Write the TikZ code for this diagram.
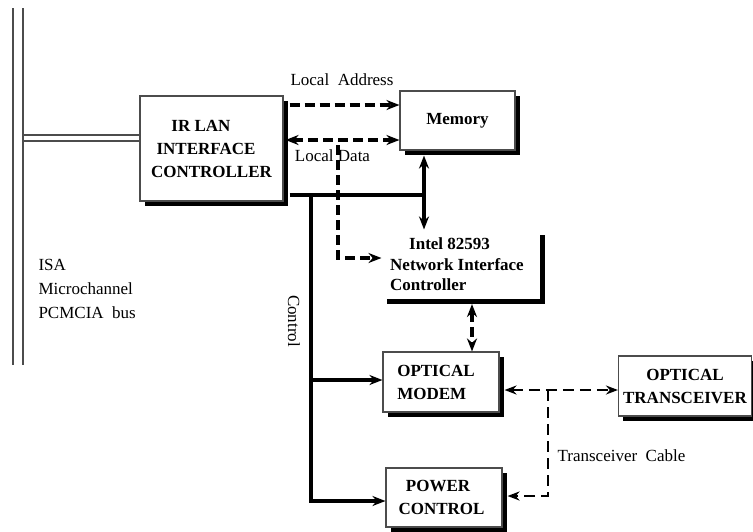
\documentclass[tikz,border=0pt]{standalone}
\usepackage{fontspec}
\setmainfont{Liberation Serif}
\usetikzlibrary{shadows,arrows.meta,calc}
\begin{document}
\begin{tikzpicture}[x=1pt,y=-1pt,
  every node/.style={font=\fontsize{17}{23}\selectfont},
  box/.style={draw=black!70, line width=1.1pt, fill=white, inner sep=0pt,
    font=\fontsize{17}{23}\selectfont\bfseries,
    drop shadow={shadow xshift=4.5pt,shadow yshift=-4.5pt,fill=black,opacity=1}},
  bus/.style={draw=black!70, line width=1.3pt},
  solidline/.style={line width=3.8pt},
  solidarrow/.style={line width=3.8pt, -{Stealth[length=13pt,width=10pt]}},
  dasharrow/.style={line width=3.6pt, dash pattern=on 10pt off 5pt, -{Stealth[length=13pt,width=10pt]}},
  cable/.style={line width=2.6pt, dash pattern=on 11pt off 6pt, -{Stealth[length=12pt,width=9pt]}},
]
\useasboundingbox (0,0) rectangle (753,531);

% bus
\draw[bus] (13,8) -- (13,365);
\draw[bus] (23,8) -- (23,365);

% boxes
\node[box, minimum width=143pt, minimum height=105pt, align=center] (ir) at (211.5,148.5)
  {IR LAN\kern21pt\\INTERFACE\kern11pt\\CONTROLLER};
\node[box, minimum width=115pt, minimum height=59pt] (mem) at (457.5,120.5) {Memory};
\node[box, draw=none, minimum width=158pt, minimum height=69pt, align=left,
  font=\fontsize{17}{20.5}\selectfont\bfseries] (nic) at (461,264.5)
  {\kern19pt Intel 82593\\Network Interface\kern8pt\\Controller};
\node[box, minimum width=116pt, minimum height=60pt, align=left] (modem) at (441,382)
  {OPTICAL\kern10pt\\MODEM};
\node[box, minimum width=133pt, minimum height=60pt, align=center] (trans) at (685,386)
  {OPTICAL\\TRANSCEIVER};
\node[box, minimum width=116pt, minimum height=59pt, align=center] (power) at (444,497.5)
  {POWER\kern12pt\\CONTROL\kern5pt};

% bus link
\draw[bus] (23,135) -- (ir.west |- 0,135);
\draw[bus] (23,141) -- (ir.west |- 0,141);
\draw[bus] (23,135) -- (23,141);

% connectors
\coordinate (ldj) at (338,140);
\coordinate (j1) at (424,195);
\coordinate (j2) at (311,195);
\coordinate (j3) at (548,390);

\draw[dasharrow] ([xshift=6pt]ir.east |- 0,105) -- (mem.west |- 0,105);
\draw[dasharrow, {Stealth[length=13pt,width=10pt]}-{Stealth[length=13pt,width=10pt]}]
  ([xshift=2pt]ir.east |- 0,140) -- (mem.west |- 0,140);
\draw[dasharrow] ([yshift=-5pt]ldj) |- (nic.west |- 0,258);

\draw[solidline] ([xshift=6pt]ir.east |- j1) -- (j1);
\draw[solidarrow, {Stealth[length=13pt,width=10pt]}-{Stealth[length=13pt,width=10pt]}]
  ([yshift=-5pt]mem.south -| j1) -- (nic.north -| j1);

\draw[solidarrow] (j2) -- (j2 |- 0,501) -- (power.west |- 0,501);
\draw[solidarrow] (j2 |- 0,380) -- (modem.west |- 0,380);

\draw[dasharrow, {Stealth[length=13pt,width=10pt]}-{Stealth[length=13pt,width=10pt]}]
  ([yshift=-4.5pt]nic.south -| 472,0) -- (modem.north -| 472,0);

\draw[cable, {Stealth[length=12pt,width=9pt]}-{Stealth[length=12pt,width=9pt]}]
  ([xshift=5pt]modem.east |- j3) -- (trans.west |- j3);
\draw[cable] (j3) |- ([xshift=5pt]power.east |- 0,496);

% labels
\node at (342,80) {Local~~Address};
\node at (332.5,156) {Local Data};
\node at (621.5,456) {Transceiver~~Cable};
\node[align=left, anchor=west, font=\fontsize{17}{24}\selectfont] at (35,288.5)
  {ISA\\Microchannel\\PCMCIA~~bus};
\node[rotate=-90] at (294,321) {Control};
\end{tikzpicture}
\end{document}
